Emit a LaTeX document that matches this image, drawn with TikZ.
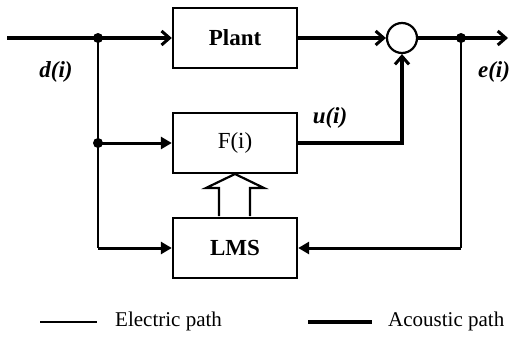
\documentclass[tikz,border=0pt]{standalone}
\usepackage{fontspec}
\setmainfont{Liberation Serif}
\usetikzlibrary{arrows.meta}
\tikzset{
  blk/.style={draw, line width=2.4pt, minimum width=124pt, minimum height=60pt, inner sep=0pt, font=\fontsize{23}{27}\selectfont},
  sumc/.style={draw, circle, line width=2.2pt, minimum size=30pt, inner sep=0pt},
  acoustic/.style={line width=3.8pt},
  electric/.style={line width=2.4pt},
  elecin/.style={line width=3pt},
  barb/.style={-{Straight Barb[length=8pt,width=14pt,line width=3pt]}},
  tri/.style={-{Triangle[length=11pt,width=12pt]}},
  dot/.style={circle, fill, inner sep=0pt, minimum size=10pt},
  lbl/.style={font=\fontsize{23}{27}\selectfont\bfseries\itshape},
  leg/.style={font=\fontsize{21}{25}\selectfont, anchor=west, inner sep=0pt},
}
\begin{document}
\begin{tikzpicture}[x=1pt,y=-1pt]
\useasboundingbox[fill=white] (0,0) rectangle (512,340);
% blocks
\node[blk] (plant) at (235,38) {\bfseries Plant};
\node[blk] (F) at (235,143) {F(i)};
\node[blk] (lms) at (235,248) {\bfseries LMS};
\node[sumc] (sum) at (402,38) {};
% coordinates
\coordinate (in) at (7,38);
\node[dot] (j1) at (98,38) {};
\node[dot] (j2) at (98,143) {};
\coordinate (c1) at (98,248);
\coordinate (cu) at (402,143);
\node[dot] (j3) at (461,38) {};
\coordinate (out) at (508,38);
\coordinate (c2) at (461,248);
% acoustic paths
\draw[acoustic] (in) -- (j1.center);
\draw[acoustic,barb] (j1.center) -- (plant.west);
\draw[acoustic,barb] (plant.east) -- (sum.west);
\draw[acoustic] (sum.east) -- (j3.center);
\draw[acoustic,barb] (j3.center) -- (out);
\draw[acoustic,barb,line join=miter] (F.east |- cu) -- (cu) -- (sum.south);
% electric paths
\draw[electric] (j1.center) -- (j2.center) -- (c1);
\draw[elecin,tri] (j2.center) -- (F.west);
\draw[elecin,tri] (c1) -- (lms.west);
\draw[electric] (j3.center) -- (c2);
\draw[elecin,tri] (c2) -- (lms.east);
% hollow arrow
\draw[line width=2.2pt, line join=miter] (219,216) -- (219,188) -- (206,188) -- (235,174) -- (264,188) -- (250,188) -- (250,216);
% labels
\node[lbl] (d) at (56,72) {d(i)};
\node[lbl] (e) at (494,72) {e(i)};
\node[lbl] (u) at (330,118) {u(i)};
% legend
\coordinate (l1a) at (40,322);
\coordinate (l1b) at (97,322);
\draw[electric] (l1a) -- (l1b);
\node[leg] (lt1) at (115,321) {Electric path};
\coordinate (l2a) at (308,322);
\coordinate (l2b) at (372,322);
\draw[acoustic] (l2a) -- (l2b);
\node[leg] (lt2) at (388,321) {Acoustic path};
\end{tikzpicture}
\end{document}
